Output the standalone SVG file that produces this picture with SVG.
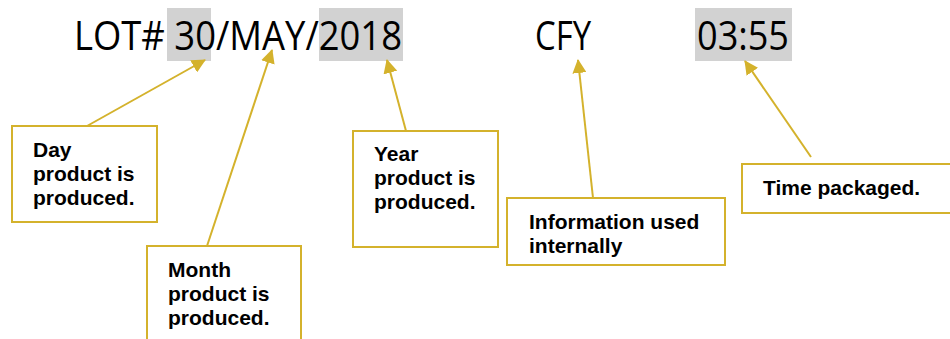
<svg xmlns="http://www.w3.org/2000/svg" width="950" height="339" viewBox="0 0 950 339">
<style>
.hl{fill:#d2d2d2}
.big{font-family:"Open Sans",Lato,"Liberation Sans",sans-serif;font-size:40px;fill:#000}
.box{fill:#fff;stroke:#d4b22c;stroke-width:2}
.lbl{font-family:"Liberation Sans",Arial,sans-serif;font-weight:bold;font-size:21px;fill:#000}
.con{stroke:#d4b22c;stroke-width:2;fill:none}
</style>
<defs>
<marker id="ah" markerUnits="userSpaceOnUse" viewBox="0 0 14 14" refX="13" refY="7" markerWidth="14" markerHeight="14" orient="auto">
<path d="M0,0 L14,7 L0,14 Z" fill="#d4b22c"/>
</marker>
</defs>
<rect width="950" height="339" fill="#fff"/>
<g id="lot">
<rect class="hl" x="167" y="8" width="44" height="53"/>
<rect class="hl" x="319" y="8" width="84" height="53"/>
<text class="big" x="74" y="50" textLength="328" lengthAdjust="spacingAndGlyphs">LOT# 30/MAY/2018</text>
</g>
<g id="cfy">
<text class="big" x="535" y="50" textLength="56" lengthAdjust="spacingAndGlyphs">CFY</text>
</g>
<g id="time">
<rect class="hl" x="695" y="8" width="97" height="53"/>
<text class="big" x="697" y="50" textLength="92" lengthAdjust="spacingAndGlyphs">03:55</text>
</g>
<g id="connectors">
<line class="con" x1="87" y1="126" x2="205" y2="60" marker-end="url(#ah)"/>
<line class="con" x1="207" y1="246" x2="272" y2="50" marker-end="url(#ah)"/>
<line class="con" x1="406" y1="131" x2="387" y2="60" marker-end="url(#ah)"/>
<line class="con" x1="593" y1="198" x2="578" y2="60" marker-end="url(#ah)"/>
<line class="con" x1="811" y1="157" x2="745" y2="61" marker-end="url(#ah)"/>
</g>
<g id="day">
<rect class="box" x="12" y="126" width="145" height="96"/>
<text class="lbl" x="33" y="157">Day</text>
<text class="lbl" x="33" y="181">product is</text>
<text class="lbl" x="33" y="205">produced.</text>
</g>
<g id="month">
<rect class="box" x="147" y="246" width="154" height="110"/>
<text class="lbl" x="168" y="277">Month</text>
<text class="lbl" x="168" y="301">product is</text>
<text class="lbl" x="168" y="325">produced.</text>
</g>
<g id="year">
<rect class="box" x="353" y="131" width="145" height="116"/>
<text class="lbl" x="374" y="161">Year</text>
<text class="lbl" x="374" y="185">product is</text>
<text class="lbl" x="374" y="209">produced.</text>
</g>
<g id="info">
<rect class="box" x="507" y="198" width="218" height="67"/>
<text class="lbl" x="529" y="229">Information used</text>
<text class="lbl" x="529" y="253">internally</text>
</g>
<g id="timebox">
<rect class="box" x="742" y="164" width="220" height="49"/>
<text class="lbl" x="763" y="195">Time packaged.</text>
</g>
</svg>
